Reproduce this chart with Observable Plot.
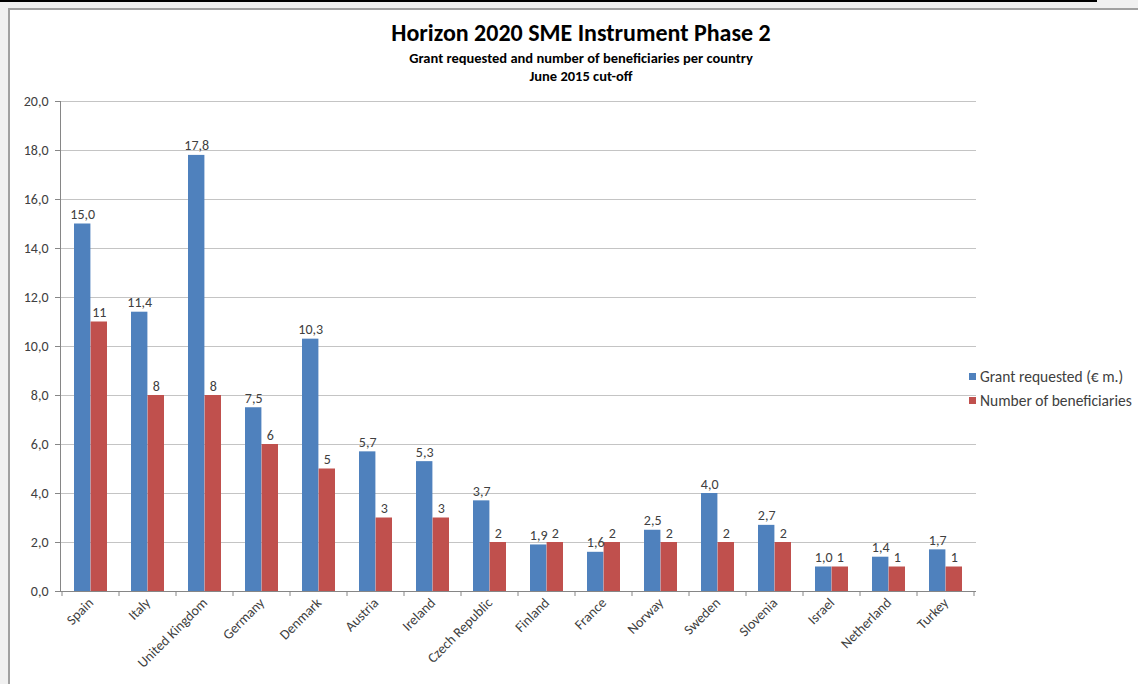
<!DOCTYPE html>
<html>
<head>
<meta charset="utf-8">
<script src="https://cdn.jsdelivr.net/npm/d3@7"></script>
<script src="https://cdn.jsdelivr.net/npm/@observablehq/plot@0.6"></script>
<style>
  html, body { margin: 0; padding: 0; }
  body { width: 1138px; height: 684px; overflow: hidden; background: #f0f0f0; position: relative; font-family: Carlito, Lato, "Open Sans", sans-serif; color: #404040; }
  #topline { position: absolute; left: 0; top: 0; width: 1097px; height: 2px; background: #000; }
  #frame { position: absolute; left: 8px; top: 8px; width: 1200px; height: 720px; background: #fff; border-left: 2px solid #a0a0a0; border-top: 2px solid #a0a0a0; }
  #titles { position: absolute; left: 0; top: 0; width: 1162px; text-align: center; color: #000; }
  #title { position: absolute; left: 0; right: 0; top: 18px; font-size: 24px; font-weight: bold; }
  #sub1 { position: absolute; left: 0; right: 0; top: 49px; font-size: 14.5px; font-weight: bold; }
  #sub2 { position: absolute; left: 0; right: 0; top: 67px; font-size: 14.5px; font-weight: bold; }
  #chart { position: absolute; left: 0; top: 0; }
  .legend { position: absolute; left: 969px; font-size: 15.5px; color: #404040; white-space: nowrap; }
  .legend span.sw { display: inline-block; width: 7px; height: 7px; margin-right: 4px; vertical-align: 2px; }
</style>
</head>
<body>
<div id="topline"></div>
<div id="frame"></div>
<div id="titles">
  <div id="title">Horizon 2020 SME Instrument Phase 2</div>
  <div id="sub1">Grant requested and number of beneficiaries per country</div>
  <div id="sub2">June 2015 cut-off</div>
</div>
<div id="chart"></div>
<div class="legend" id="leg1" style="top:367px"><span class="sw" style="background:#4F81BD"></span>Grant requested (€ m.)</div>
<div class="legend" id="leg2" style="top:391px"><span class="sw" style="background:#C0504D"></span>Number of beneficiaries</div>
<script>
const countries = ["Spain", "Italy", "United Kingdom", "Germany", "Denmark", "Austria", "Ireland", "Czech Republic", "Finland", "France", "Norway", "Sweden", "Slovenia", "Israel", "Netherland", "Turkey"];
const grantRequested = [15.0, 11.4, 17.8, 7.5, 10.3, 5.7, 5.3, 3.7, 1.9, 1.6, 2.5, 4.0, 2.7, 1.0, 1.4, 1.7];
const beneficiaries = [11, 8, 8, 6, 5, 3, 3, 2, 2, 2, 2, 2, 2, 1, 1, 1];
const yTicks = [0, 2, 4, 6, 8, 10, 12, 14, 16, 18, 20];
const seriesNames = ["Grant requested (€ m.)", "Number of beneficiaries"];
const colors = ["#4F81BD", "#C0504D"];

const rows = countries.map((c, i) => ({country: c, grant: grantRequested[i], n: beneficiaries[i]}));
const fmt = v => v.toFixed(1).replace(".", ",");

const width = 1138, height = 684;
const mL = 60, mR = 162, mT = 101, mB = 93;
const pInner = 0.42;
const step = (width - mL - mR) / countries.length;
const bw = step * (1 - pInner);
const fs = 14;

const chart = Plot.plot({
  width, height,
  marginLeft: mL, marginRight: mR, marginTop: mT, marginBottom: mB,
  style: {background: "transparent", fontFamily: "Carlito, Lato, 'Open Sans', sans-serif", fontSize: fs + "px", color: "#404040"},
  x: {domain: countries, paddingInner: pInner, paddingOuter: pInner / 2, axis: null, label: null},
  y: {domain: [0, 20], axis: null, label: null},
  marks: [
    Plot.gridY(yTicks, {stroke: "#c4c4c4", strokeOpacity: 1}),
    Plot.barY(rows, {x: "country", y: "grant", fill: colors[0], insetRight: bw / 2}),
    Plot.barY(rows, {x: "country", y: "n", fill: colors[1], insetLeft: bw / 2}),
    Plot.text(rows, {x: "country", y: "grant", text: d => fmt(d.grant), dx: -bw / 4, dy: -5, lineAnchor: "bottom", fill: "#404040", fontSize: fs}),
    Plot.text(rows, {x: "country", y: "n", text: d => String(d.n), dx: bw / 4, dy: -5, lineAnchor: "bottom", fill: "#404040", fontSize: fs}),
    Plot.axisY(yTicks, {tickSize: 5, tickPadding: 7, tickFormat: fmt, stroke: "#868686", fill: "#404040", fontSize: fs, label: null}),
    Plot.axisX({tickSize: 0, tickPadding: 9, tickRotate: -45, fill: "#404040", fontSize: fs, label: null}),
    Plot.ruleY([0], {stroke: "#868686"}),
    Plot.frame({anchor: "left", stroke: "#868686"})
  ]
});
document.getElementById("chart").appendChild(chart);

// category boundary tick marks on the x axis, positioned from Plot's x scale
const xs = chart.scale("x");
const ys = chart.scale("y");
const y0 = ys.apply(0);
const gap = (xs.step - xs.bandwidth) / 2;
const bounds = countries.map(c => xs.apply(c) - gap).concat([xs.apply(countries[countries.length - 1]) + xs.bandwidth + gap]);
d3.select(chart).append("g")
  .attr("stroke", "#868686")
  .selectAll("line").data(bounds).join("line")
  .attr("x1", d => d).attr("x2", d => d)
  .attr("y1", y0).attr("y2", y0 + 5);
</script>
</body>
</html>
